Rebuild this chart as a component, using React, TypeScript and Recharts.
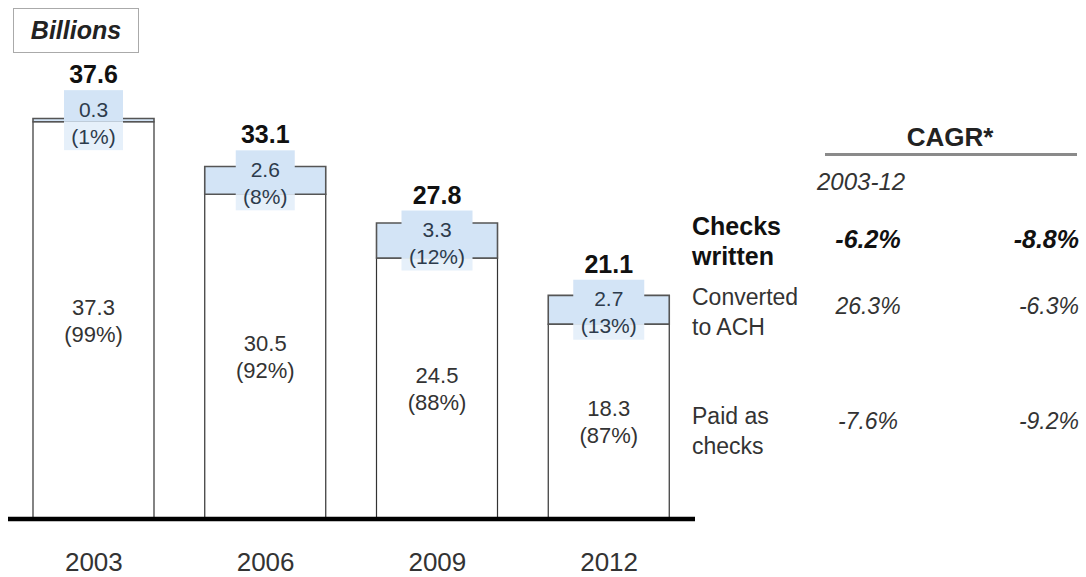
import React from 'react';
import { BarChart, Bar, XAxis, YAxis, LabelList } from 'recharts';

const years = ['2003', '2006', '2009', '2012'];
const paidAsChecks = [37.3, 30.5, 24.5, 18.3];
const convertedToAch = [0.3, 2.6, 3.3, 2.7];
const totals = [37.6, 33.1, 27.8, 21.1];
const paidShare = ['99%', '92%', '88%', '87%'];
const achShare = ['1%', '8%', '12%', '13%'];

const cagrRows = [
  { label: ['Checks', 'written'], a: '-6.2%', b: '-8.8%', bold: true, y: 226, vy: 239 },
  { label: ['Converted', 'to ACH'], a: '26.3%', b: '-6.3%', bold: false, y: 297, vy: 306 },
  { label: ['Paid as', 'checks'], a: '-7.6%', b: '-9.2%', bold: false, y: 416, vy: 421 },
];

const data = years.map((y, i) => ({
  year: y,
  paid: paidAsChecks[i],
  ach: convertedToAch[i],
}));

const font = '"Liberation Sans", Arial, sans-serif';

// label inside the white (paid as checks) segment
const PaidLabel = (props: any) => {
  const { x, y, width, height, index } = props;
  const cx = x + width / 2;
  const cy = y + height / 2;
  return (
    <g fontFamily={font} fontSize={22} fill="#333" textAnchor="middle">
      <text x={cx} y={cy - 13} dominantBaseline="central">{paidAsChecks[index].toFixed(1)}</text>
      <text x={cx} y={cy + 14} dominantBaseline="central">({paidShare[index]})</text>
    </g>
  );
};

// boxed label for the ACH segment plus the total on top
const AchLabel = (props: any) => {
  const { x, y, width, height, index } = props;
  const cx = x + width / 2;
  const cy = y + height / 2;
  const w = 12 * `(${achShare[index]})`.length + 11;
  const boxTop = cy - 30;
  const segBottom = y + height;
  return (
    <g fontFamily={font}>
      <rect x={cx - w / 2} y={boxTop} width={w} height={segBottom - boxTop} fill="#d3e4f6" />
      <rect x={cx - w / 2} y={segBottom} width={w} height={cy + 30 - segBottom} fill="#e6f0fa" />
      <text x={cx} y={cy - 11} dominantBaseline="central" textAnchor="middle" fontSize={21} fill="#2d3b4c">
        {convertedToAch[index].toFixed(1)}
      </text>
      <text x={cx} y={cy + 16} dominantBaseline="central" textAnchor="middle" fontSize={21} fill="#2d3b4c">
        ({achShare[index]})
      </text>
      <text x={cx} y={cy - 46} dominantBaseline="central" textAnchor="middle" fontSize={25} fontWeight="bold" fill="#111">
        {totals[index].toFixed(1)}
      </text>
    </g>
  );
};

const abs = (left: number, cy: number, size: number, extra: any = {}) => ({
  position: 'absolute' as const,
  left,
  top: cy - size / 2,
  fontSize: size,
  lineHeight: `${size}px`,
  whiteSpace: 'nowrap' as const,
  color: '#222',
  ...extra,
});

export default function App() {
  return (
    <div style={{ position: 'absolute', left: 0, top: 0, width: 1086, height: 577, background: '#fff', fontFamily: font }}>
      <BarChart
        width={1086}
        height={577}
        data={data}
        margin={{ top: 93, right: 391, bottom: 8, left: 8 }}
        barSize={121}
      >
        <XAxis
          dataKey="year"
          height={50}
          tickLine={false}
          tickSize={0}
          tickMargin={34}
          axisLine={{ stroke: '#000', strokeWidth: 4.5 }}
          tick={{ fontSize: 26, fill: '#333', fontFamily: font }}
        />
        <YAxis hide domain={[0, 40]} />
        <Bar dataKey="paid" stackId="a" fill="#fff" stroke="#333" strokeWidth={1.2} isAnimationActive={false}>
          <LabelList dataKey="paid" content={PaidLabel} />
        </Bar>
        <Bar dataKey="ach" stackId="a" fill="#d3e4f6" stroke="#555" strokeWidth={1.6} isAnimationActive={false}>
          <LabelList dataKey="ach" content={AchLabel} />
        </Bar>
      </BarChart>

      <div
        style={{
          position: 'absolute', left: 13, top: 8, width: 126, height: 45, border: '1px solid #aaa',
          boxSizing: 'border-box', display: 'flex', alignItems: 'center', justifyContent: 'center',
          fontSize: 25, fontWeight: 'bold', fontStyle: 'italic', color: '#222', background: '#fff',
        }}
      >
        Billions
      </div>

      <div style={abs(950, 137, 26, { fontWeight: 'bold', transform: 'translateX(-50%)' })}>CAGR*</div>
      <div style={{ position: 'absolute', left: 825, top: 153, width: 252, height: 3, background: '#8a8a8a' }} />
      <div style={abs(817, 182, 24, { fontStyle: 'italic', color: '#333' })}>2003-12</div>

      {cagrRows.map((r) => {
        const size = r.bold ? 25 : 23;
        const col = r.bold ? '#111' : '#333';
        const weight = r.bold ? 'bold' : 'normal';
        return (
          <React.Fragment key={r.label[0]}>
            <div style={abs(692, r.y, size, { fontWeight: weight, color: col })}>{r.label[0]}</div>
            <div style={abs(692, r.y + 30, size, { fontWeight: weight, color: col })}>{r.label[1]}</div>
            <div style={abs(868, r.vy, size, { fontStyle: 'italic', fontWeight: weight, transform: 'translateX(-50%)', color: col })}>
              {r.a}
            </div>
            <div style={{ ...abs(0, r.vy, size, { fontStyle: 'italic', fontWeight: weight, color: col }), left: undefined, right: 7 }}>
              {r.b}
            </div>
          </React.Fragment>
        );
      })}
    </div>
  );
}
